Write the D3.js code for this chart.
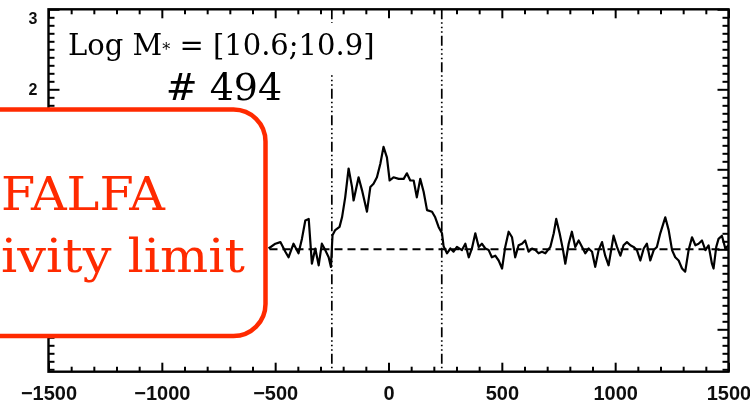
<!DOCTYPE html>
<html>
<head>
<meta charset="utf-8">
<script src="https://cdn.jsdelivr.net/npm/d3@7"></script>
<style>
  html, body { margin: 0; padding: 0; background: #fff; }
  svg { display: block; }
</style>
</head>
<body>
<svg id="chart" width="750" height="403"></svg>
<script>
// HI stack spectrum: velocity (km/s) vs. stacked flux
const velocity = [
  -529, -499, -477, -455, -441, -419, -397, -382, -367, -352, -338, -323, -308, -294, -279, -264,
  -254, -247, -235, -216, -205, -191, -176, -161, -154, -132, -117, -95, -80, -66, -51, -36,
  -22, -7, 5, 22, 45, 67, 81, 96, 111, 125, 140, 155, 170, 192, 206, 221, 236, 243,
  258, 273, 287, 302, 324, 339, 354, 368, 383, 398, 412, 427, 442, 456, 471, 486,
  501, 515, 530, 545, 559, 574, 589, 603, 618, 633, 648, 662, 677, 692, 714, 729,
  740, 755, 770, 780, 795, 809, 824, 839, 854, 868, 883, 898, 912, 927, 942, 956,
  971, 986, 993, 1008, 1023, 1037, 1052, 1067, 1081, 1096, 1111, 1126, 1140, 1155, 1170, 1184,
  1199, 1221, 1236, 1251, 1265, 1280, 1295, 1309, 1324, 1339, 1354, 1368, 1383, 1398, 1412, 1427,
  1434, 1446, 1456, 1471, 1486, 1500
];
const flux = [
  0.01, 0.07, 0.09, -0.03, -0.10, 0.07, -0.05, 0.13, 0.36, 0.38, -0.18, 0.01, -0.20, 0.07, -0.01, -0.10,
  -0.22, 0.175, 0.24, 0.28, 0.40, 0.65, 1.01, 0.78, 0.61, 0.90, 0.74, 0.47, 0.78, 0.82, 0.90, 1.07,
  1.28, 1.15, 0.86, 0.90, 0.88, 0.88, 0.95, 0.86, 0.86, 0.65, 0.88, 0.72, 0.49, 0.47, 0.40, 0.28, 0.20, 0.04,
  -0.05, 0.01, -0.03, 0.03, -0.01, 0.07, -0.10, 0.01, 0.20, 0.03, 0.07, 0.01, -0.01, -0.10, -0.08, -0.14,
  -0.24, 0.03, 0.22, 0.15, -0.10, 0.05, 0.07, 0.11, -0.03, 0.01, -0.01, -0.05, -0.03, -0.05, 0.03, 0.20,
  0.38, 0.20, -0.01, -0.18, 0.07, 0.22, 0.03, 0.11, 0.03, -0.05, 0.01, -0.03, -0.22, -0.01, 0.09, -0.08,
  -0.20, 0.05, 0.17, 0.03, -0.08, 0.05, 0.09, 0.05, 0.03, -0.01, -0.14, 0.01, 0.07, -0.14, -0.01, 0.03,
  0.20, 0.40, 0.24, -0.01, -0.10, -0.14, -0.24, -0.28, -0.01, 0.15, 0.05, 0.07, 0.11, -0.01, 0.05, -0.18,
  -0.24, 0.03, 0.13, 0.17, 0.01, 0.05
];

const xDomain = [-1500, 1500];
const yDomain = [-1.53, 3];
const xTickValues = [-1500, -1000, -500, 0, 500, 1000, 1500];
const yTickValues = [-1, 0, 1, 2, 3];
const yLabelValues = [2, 3];       // labels left uncovered by the callout
const xMinorStep = 100;
const yMinorStep = 0.1;
const windowEdges = [-250, 235];   // integration window (dash-dot lines)
const baseline = 0;                // zero-flux level (dashed line)

const massLabel = ["Log M", "*", " = [10.6;10.9]"];
const countLabel = "# 494";
const noteLines = ["FALFA", "ivity limit"];

// ---- layout ----
const svg = d3.select("#chart");
const plot = { left: 48.5, right: 728.5, top: 9.3, bottom: 371.7 };

const x = d3.scaleLinear().domain(xDomain).range([plot.left, plot.right]);
const y = d3.scaleLinear().domain(yDomain).range([plot.bottom, plot.top]);

const defs = svg.append("defs");
defs.append("filter").attr("id", "soft")
  .attr("x", "-5%").attr("y", "-5%").attr("width", "110%").attr("height", "110%")
  .append("feGaussianBlur").attr("stdDeviation", 0.5);

const g = svg.append("g").attr("filter", "url(#soft)");

const xMinor = d3.range(xDomain[0], xDomain[1] + 1, xMinorStep).filter(v => !xTickValues.includes(v));
const yMinor = d3.range(Math.ceil(yDomain[0] / yMinorStep), Math.floor(yDomain[1] / yMinorStep) + 1)
  .map(i => +(i * yMinorStep).toFixed(2))
  .filter(v => !yTickValues.includes(v));

function styleAxis(sel) {
  sel.select(".domain").remove();
  sel.selectAll(".tick line").attr("stroke", "#000").attr("stroke-width", 2);
  sel.selectAll(".tick text").attr("fill", "#111")
    .attr("font-family", "'Liberation Sans', Arial, sans-serif")
    .attr("font-weight", "bold");
}

// bottom axis: major with labels, minor ticks
g.append("g").attr("transform", `translate(0,${plot.bottom})`)
  .call(d3.axisBottom(x).tickValues(xTickValues).tickSize(-9).tickSizeOuter(0).tickPadding(14)
    .tickFormat(d3.format("d")))
  .call(styleAxis)
  .call(s => s.selectAll(".tick text").attr("font-size", 20));
g.append("g").attr("transform", `translate(0,${plot.bottom})`)
  .call(d3.axisBottom(x).tickValues(xMinor).tickSize(-5).tickSizeOuter(0).tickFormat(""))
  .call(styleAxis);

// top axis: ticks only
g.append("g").attr("transform", `translate(0,${plot.top})`)
  .call(d3.axisTop(x).tickValues(xTickValues).tickSize(-9).tickSizeOuter(0).tickFormat(""))
  .call(styleAxis);
g.append("g").attr("transform", `translate(0,${plot.top})`)
  .call(d3.axisTop(x).tickValues(xMinor).tickSize(-5).tickSizeOuter(0).tickFormat(""))
  .call(styleAxis);

// left axis: major ticks, labels where visible, minor ticks
g.append("g").attr("transform", `translate(${plot.left},0)`)
  .call(d3.axisLeft(y).tickValues(yTickValues).tickSize(-11).tickSizeOuter(0).tickFormat(""))
  .call(styleAxis);
g.append("g").attr("transform", `translate(${plot.left},0)`)
  .call(d3.axisLeft(y).tickValues(yLabelValues).tickSize(0).tickSizeOuter(0).tickPadding(11)
    .tickFormat(d3.format("d")))
  .call(styleAxis)
  .call(s => s.selectAll(".tick text")
    .attr("font-size", 16)
    .attr("dy", d => `${0.32 + Math.max(0, plot.top + 9 - y(d)) / 16}em`));
g.append("g").attr("transform", `translate(${plot.left},0)`)
  .call(d3.axisLeft(y).tickValues(yMinor).tickSize(-6).tickSizeOuter(0).tickFormat(""))
  .call(styleAxis);

// right axis: ticks only
g.append("g").attr("transform", `translate(${plot.right},0)`)
  .call(d3.axisRight(y).tickValues(yTickValues).tickSize(-11).tickSizeOuter(0).tickFormat(""))
  .call(styleAxis);
g.append("g").attr("transform", `translate(${plot.right},0)`)
  .call(d3.axisRight(y).tickValues(yMinor).tickSize(-6).tickSizeOuter(0).tickFormat(""))
  .call(styleAxis);

// frame
g.append("rect")
  .attr("x", plot.left).attr("y", plot.top)
  .attr("width", plot.right - plot.left).attr("height", plot.bottom - plot.top)
  .attr("fill", "none").attr("stroke", "#000").attr("stroke-width", 2.4);

// integration window
g.selectAll(".edge").data(windowEdges).join("line")
  .attr("class", "edge")
  .attr("x1", d => x(d)).attr("x2", d => x(d))
  .attr("y1", plot.top).attr("y2", plot.bottom)
  .attr("stroke", "#000").attr("stroke-width", 1.7)
  .attr("stroke-dasharray", "10,3,1.5,3,1.5,3,1.5,3");

// zero level
g.append("line")
  .attr("x1", x(xDomain[0])).attr("x2", x(xDomain[1]))
  .attr("y1", y(baseline)).attr("y2", y(baseline))
  .attr("stroke", "#000").attr("stroke-width", 1.9)
  .attr("stroke-dasharray", "8,5");

// spectrum
const line = d3.line().x((d, i) => x(velocity[i])).y(d => y(d));
g.append("path")
  .attr("d", line(flux))
  .attr("fill", "none").attr("stroke", "#000").attr("stroke-width", 2.2)
  .attr("stroke-linejoin", "round");

// labels in the upper part of the panel
const labelBg = svg.append("rect").attr("fill", "#fff");
const massText = svg.append("text")
  .attr("x", 68).attr("y", 55)
  .attr("font-family", "'DejaVu Serif', serif").attr("font-size", 29).attr("fill", "#000");
massText.append("tspan").text(massLabel[0]);
massText.append("tspan").attr("font-size", 16).text(massLabel[1]);
massText.append("tspan").text(massLabel[2]);
const bb = massText.node().getBBox();
labelBg.attr("x", bb.x - 10).attr("y", bb.y - 5).attr("width", bb.width + 20).attr("height", bb.height + 16);

svg.append("text")
  .attr("x", 224).attr("y", 100).attr("text-anchor", "middle")
  .attr("font-family", "'DejaVu Serif', serif").attr("font-size", 38).attr("fill", "#000")
  .text(countLabel);

// callout box
const red = "#ff2a00";
svg.append("rect")
  .attr("x", -40).attr("y", 109.5)
  .attr("width", 305.5).attr("height", 226.5)
  .attr("rx", 32).attr("ry", 32)
  .attr("fill", "#fff").attr("stroke", red).attr("stroke-width", 4.5);

svg.selectAll(".note").data(noteLines).join("text")
  .attr("class", "note")
  .attr("x", 1)
  .attr("y", (d, i) => [210, 272][i])
  .attr("textLength", (d, i) => [164, 244][i])
  .attr("lengthAdjust", "spacingAndGlyphs")
  .attr("font-family", "'DejaVu Serif', serif")
  .attr("font-size", 46)
  .attr("fill", red)
  .text(d => d);
</script>
</body>
</html>
